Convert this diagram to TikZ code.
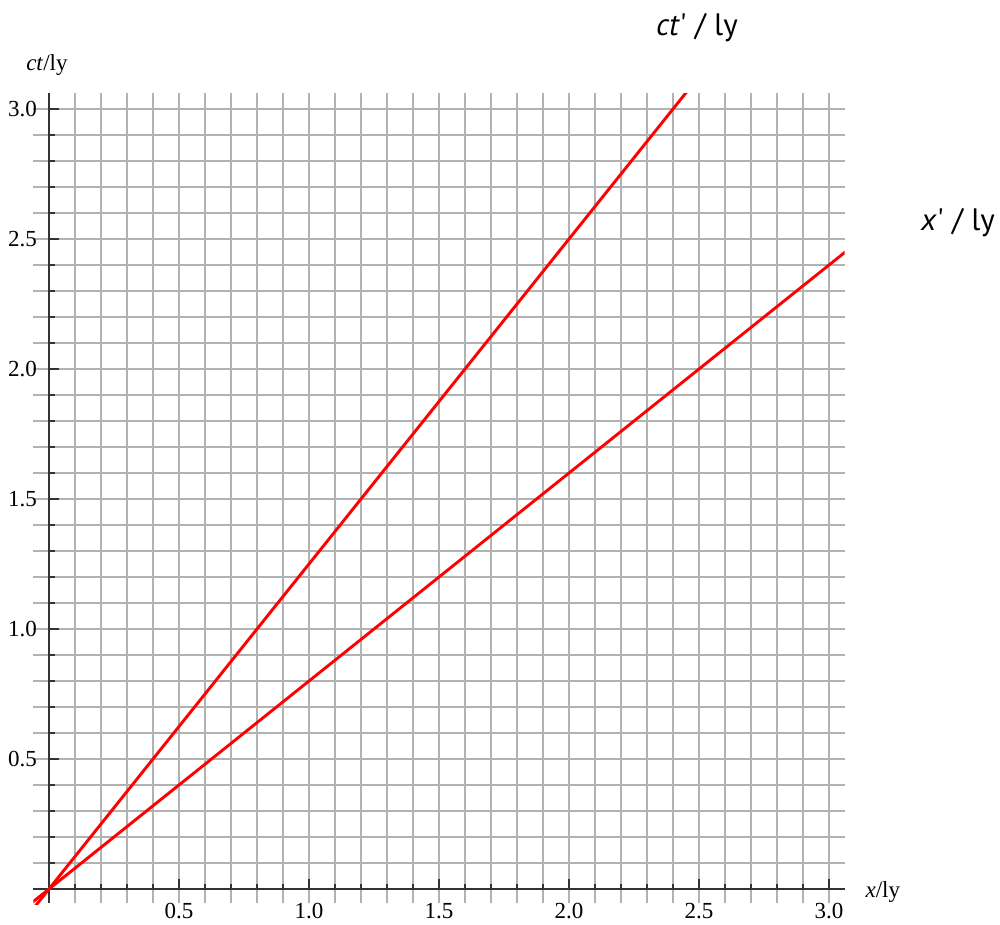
\documentclass[tikz,border=0pt]{standalone}
\usepackage{fontspec}
\setmainfont{Liberation Serif}
\newfontfamily\labelsans{PT Sans}[Ligatures=TeXOff]
\begin{document}
\begin{tikzpicture}[x=260pt,y=260pt,
  gridline/.style={draw=black!30, line width=1.3pt},
  axisline/.style={draw=black!80, line width=1.6pt},
  tickmark/.style={draw=black!80, line width=1.4pt},
  worldline/.style={draw=red, line width=2.9pt},
  ticklabel/.style={font=\fontsize{23}{26}\selectfont, inner sep=0pt},
  axislabel/.style={font=\fontsize{23}{26}\selectfont, inner sep=0pt},
  primelabel/.style={font=\labelsans\fontsize{31}{36}\selectfont, inner sep=0pt}]
\useasboundingbox (-0.18846,-0.13462) rectangle (3.65769,3.41923);
% grid
\foreach \i in {1,...,30}{
  \draw[gridline] (\i/10,-0.055) -- (\i/10,3.06);
  \draw[gridline] (-0.06,\i/10) -- (3.06,\i/10);
}
% axes
\coordinate (xl) at (-0.06,0);
\coordinate (xr) at (3.06,0);
\coordinate (yb) at (0,-0.055);
\coordinate (yt) at (0,3.06);
\draw[axisline] (xl) -- (xr);
\draw[axisline] (yb) -- (yt);
% ticks
\foreach \i in {1,...,30}{
  \pgfmathsetmacro{\len}{mod(\i,5)==0 ? 10 : 5.5}
  \draw[tickmark] (\i/10,0) -- ++(0,\len pt);
  \draw[tickmark] (0,\i/10) -- ++(\len pt,0);
}
% tick labels
\foreach \v/\t in {0.5/0.5,1/1.0,1.5/1.5,2/2.0,2.5/2.5,3/3.0}{
  \node[ticklabel] (xt\t) at (\v,-0.083) {\t};
  \node[ticklabel, anchor=east] (yt\t) at (-0.046,\v) {\t};
}
% axis labels
\node[axislabel] (ctlab) at (-0.008,3.169) {\textit{ct}/ly};
\node[axislabel, anchor=west] (xlab) at (3.14,-0.012) {\textit{x}/ly};
\node[primelabel] (ctplab) at (2.492,3.311) {\textit{ct}' / ly};
\node[primelabel] (xplab) at (3.496,2.561) {\textit{x}' / ly};
% world lines
\coordinate (o1) at (-0.1,-0.125);
\coordinate (e1) at (2.5,3.125);
\coordinate (o2) at (-0.1,-0.08);
\coordinate (e2) at (3.1,2.48);
\begin{scope}
  \clip (-0.06,-0.06) rectangle (3.06,3.06);
  \draw[worldline] (o1) -- (e1);
  \draw[worldline] (o2) -- (e2);
\end{scope}
\end{tikzpicture}
\end{document}
